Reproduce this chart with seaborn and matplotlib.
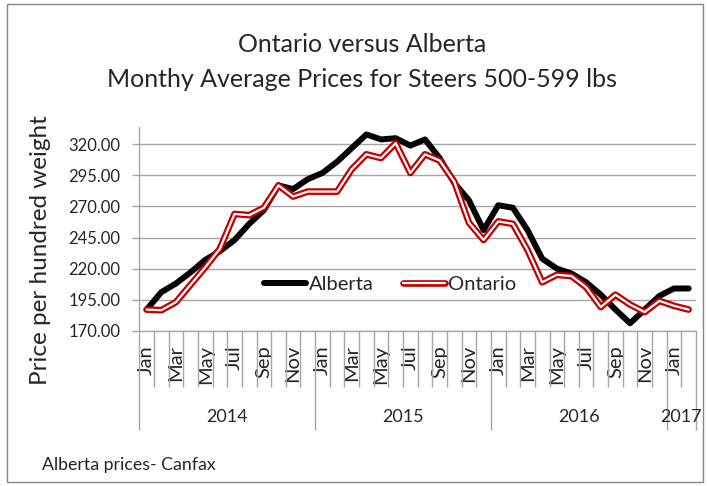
import matplotlib
matplotlib.use('Agg')
import matplotlib.pyplot as plt
import matplotlib.patheffects as pe
from matplotlib.patches import Rectangle
from matplotlib.ticker import StrMethodFormatter
import seaborn as sns

# monthly prices Jan 2014 - Feb 2017
month_names = ['Jan', 'Feb', 'Mar', 'Apr', 'May', 'Jun', 'Jul', 'Aug', 'Sep', 'Oct', 'Nov', 'Dec']
months = month_names * 3 + ['Jan', 'Feb']
years = ['2014', '2015', '2016', '2017']
year_months = [12, 12, 12, 2]

alberta = [187, 201, 208, 217, 227, 234, 243, 256, 267, 287, 284, 292,
           297, 306, 317, 328, 324, 325, 319, 324, 309, 289, 275, 251,
           271, 269, 251, 228, 220, 216, 209, 199, 187, 176, 187, 198,
           204, 204]
ontario = [187, 186.5, 193, 207, 221, 236, 264, 263, 269, 287, 278, 282,
           282, 282, 300, 312, 309, 321, 297, 312, 307, 290, 257, 243,
           258, 256, 235, 209, 215, 214, 205, 189, 199, 191, 185, 194,
           190, 187]

sns.set_style('white')
plt.rcParams['font.family'] = ['Lato', 'DejaVu Sans']

W, H = 707, 486
grey = '#A6A6A6'
fig = plt.figure(figsize=(W / 100, H / 100), dpi=100)
ax = fig.add_axes([139.3 / W, 1 - 330.7 / H, (696 - 139.3) / W, 203.7 / H])

x = list(range(len(months)))
sns.lineplot(x=x, y=alberta, ax=ax, color='black', lw=4.3, label='Alberta',
             solid_joinstyle='round', solid_capstyle='round')
sns.lineplot(x=x, y=ontario, ax=ax, color='white', lw=1.6, label='Ontario',
             solid_joinstyle='round')
ax.lines[-1].set_path_effects([pe.Stroke(linewidth=4.8, foreground='#C00000', joinstyle='round'),
                               pe.Normal()])

ax.set_xlim(-0.5, len(months) - 0.5)
ax.set_ylim(170, 334)
ax.set_yticks(range(170, 321, 25))
ax.yaxis.set_major_formatter(StrMethodFormatter('{x:.2f}'))
ax.yaxis.grid(True, color=grey, lw=1)
ax.tick_params(axis='y', length=4.75, color=grey, width=1, labelsize=12, pad=9, left=True)
ax.set_xticks(x[::2], labels=months[::2], rotation=90, fontsize=14.5)
ax.tick_params(axis='x', length=0, pad=10.3)
for s in ['top', 'right']:
    ax.spines[s].set_visible(False)
for s in ['left', 'bottom']:
    ax.spines[s].set_color(grey)
    ax.spines[s].set_linewidth(1)

# category separators below the axis
trans = ax.get_xaxis_transform()
bounds = [k - 0.5 for k in range(len(months) + 1)]
year_bounds = [-0.5]
for n in year_months:
    year_bounds.append(year_bounds[-1] + n)
ax.vlines([b for b in bounds if b not in year_bounds], -0.275, 0, transform=trans,
          color=grey, lw=1, clip_on=False)
ax.vlines(year_bounds, -0.4875, 0, transform=trans, color=grey, lw=1, clip_on=False)
for i, yr in enumerate(years):
    xc = (year_bounds[i] + year_bounds[i + 1]) / 2
    ax.text(xc, -0.4467, yr, transform=trans, ha='center', va='baseline', fontsize=13)

ax.set_xlabel('')
ax.set_ylabel('')
fig.text(41 / W, 1 - 250 / H, 'Price per hundred weight', rotation=90,
         ha='center', va='center', fontsize=17.5)

ax.legend(ncol=2, frameon=False, fontsize=14.5, handlelength=2.1, handletextpad=0.15,
          columnspacing=1.45, loc='center', bbox_to_anchor=(390 / W, 1 - 284 / H),
          bbox_transform=fig.transFigure)

fig.text(362 / W, 1 - 51.7 / H, 'Ontario versus Alberta', ha='center', va='baseline', fontsize=18)
fig.text(362 / W, 1 - 86.7 / H, 'Monthy Average Prices for Steers 500-599 lbs',
         ha='center', va='baseline', fontsize=18)
fig.text(42 / W, 1 - 470 / H, 'Alberta prices- Canfax', ha='left', va='baseline', fontsize=12.8)

fig.patches.append(Rectangle((6.5 / W, 4 / H), (703 - 6.5) / W, (482 - 4) / H,
                             transform=fig.transFigure, fill=False, edgecolor='#868686', lw=1))

fig.savefig('out.png', dpi=100)
